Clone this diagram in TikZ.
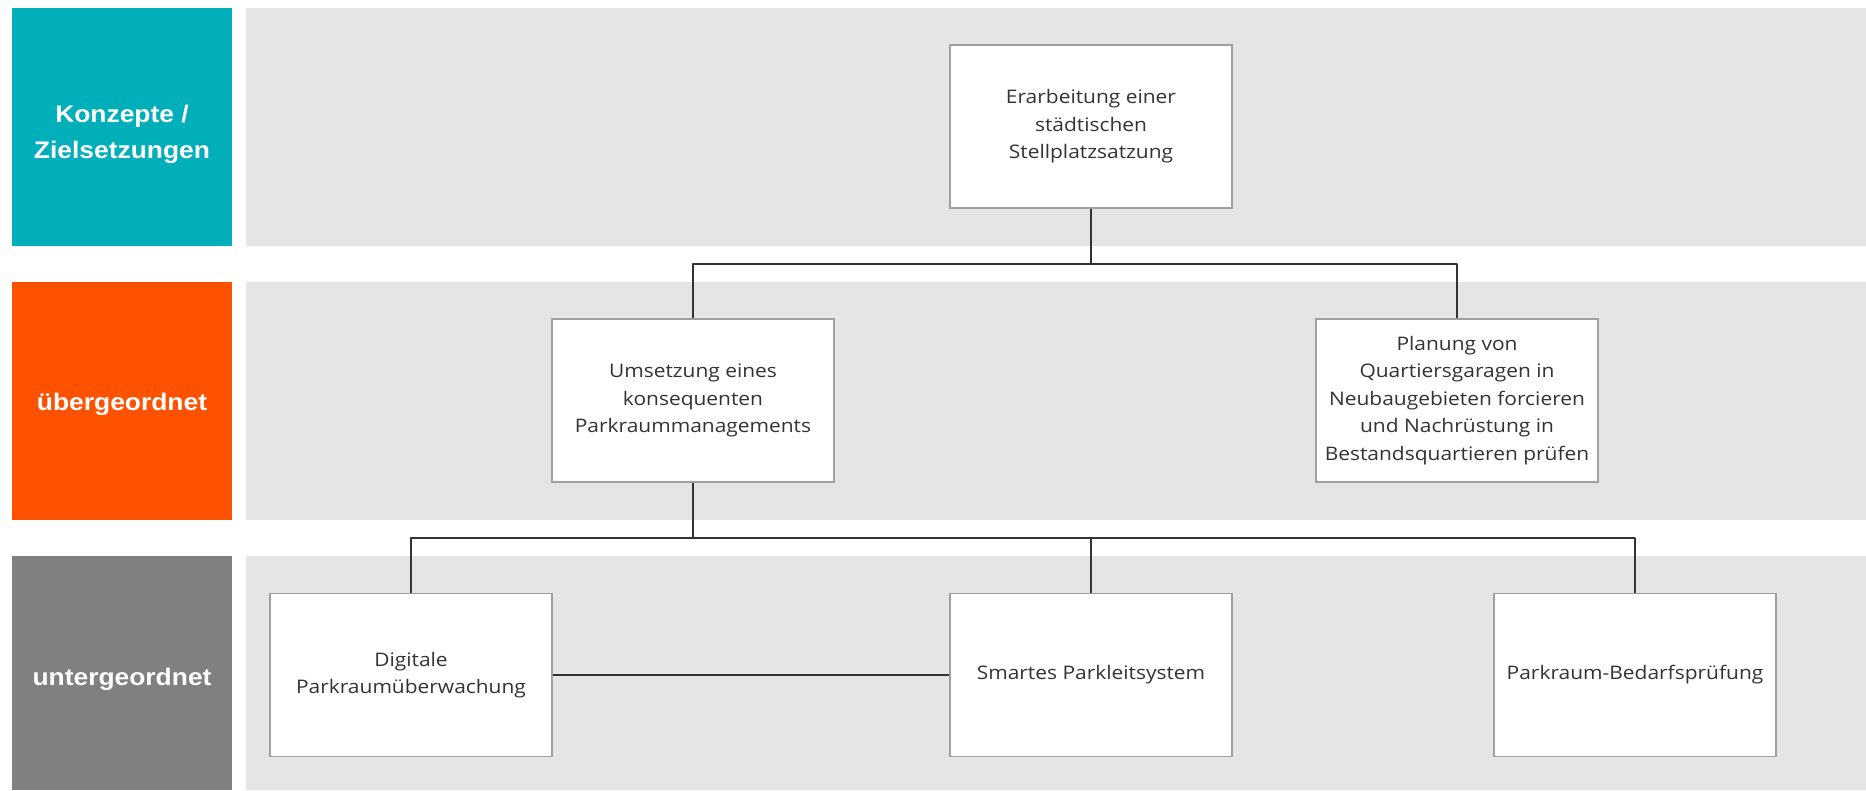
\documentclass[tikz,border=0pt]{standalone}
\usepackage{fontspec}
\setmainfont{Open Sans}[FakeStretch=1.12]
\newfontfamily\lanefont{Liberation Sans}[FakeStretch=1.1]
\definecolor{cteal}{HTML}{00AFB9}
\definecolor{corange}{HTML}{FF5200}
\definecolor{cgrey}{HTML}{808080}
\definecolor{cband}{HTML}{E5E5E5}
\definecolor{cborder}{HTML}{A0A0A0}
\definecolor{cline}{HTML}{333333}
\tikzset{
  lanelabel/.style={text=white, align=center, inner sep=0pt, font=\lanefont\bfseries\fontsize{24}{36}\selectfont},
  box/.style={draw=cborder, fill=white, line width=1.3pt, align=center, inner sep=0pt,
    minimum width=282pt, minimum height=163pt, text=cline, font=\fontsize{18.7}{27.4}\selectfont},
  link/.style={draw=cline, line width=2.8pt, line join=round},
}

\begin{document}
\begin{tikzpicture}[x=1pt, y=-1pt]
  \useasboundingbox (0,0) rectangle (1866,790);
  % ---------- lanes ----------
  \fill[cband] (246,8) rectangle (1866,246);
  \fill[cband] (246,282) rectangle (1866,520);
  \fill[cband] (246,556) rectangle (1866,790);
  \fill[cteal] (12,8) rectangle (232,246);
  \fill[corange] (12,282) rectangle (232,520);
  \fill[cgrey] (12,556) rectangle (232,790);
  \node[lanelabel] (konzepte) at (122,134) {Konzepte /\\Zielsetzungen};
  \node[lanelabel] (ueber) at (122,404) {übergeordnet};
  \node[lanelabel] (unter) at (122,679) {untergeordnet};
  % ---------- boxes ----------
  \node[box] (satzung) at (1091,126.5) {Erarbeitung einer\\städtischen\\Stellplatzsatzung};
  \node[box] (management) at (693,400.5) {Umsetzung eines\\konsequenten\\Parkraummanagements};
  \node[box] (garagen) at (1457,400.5) {Planung von\\Quartiersgaragen in\\Neubaugebieten forcieren\\und Nachrüstung in\\Bestandsquartieren prüfen};
  \node[box] (ueberwachung) at (411,675) {Digitale\\Parkraumüberwachung};
  \node[box] (leitsystem) at (1091,675) {Smartes Parkleitsystem};
  \node[box] (bedarf) at (1635,675) {Parkraum-Bedarfsprüfung};
  % ---------- connectors ----------
  \coordinate (bus1) at (1091,264);
  \coordinate (bus2) at (693,538);
  \draw[link] (satzung.south) -- (bus1) -| (management.north);
  \draw[link] (bus1) -| (garagen.north);
  \draw[link] (management.south) -- (bus2) -| (ueberwachung.north);
  \draw[link] (bus2) -| (leitsystem.north);
  \draw[link] (bus2) -| (bedarf.north);
  \draw[link] (ueberwachung) -- (leitsystem);
\end{tikzpicture}
\end{document}
